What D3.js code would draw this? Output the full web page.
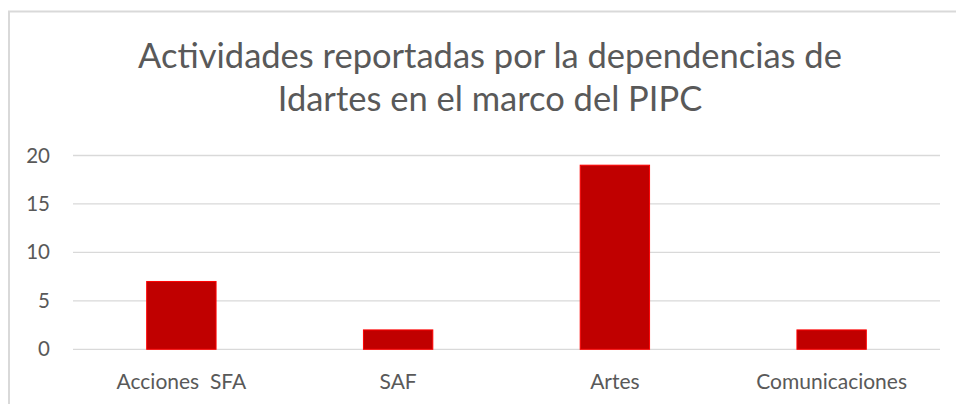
<!DOCTYPE html>
<html>
<head>
<meta charset="utf-8">
<script src="https://cdn.jsdelivr.net/npm/d3@7"></script>
<style>
  body { margin: 0; background: #fff; }
  text { font-family: Lato, "Open Sans", sans-serif; fill: #595959; }
</style>
</head>
<body>
<svg id="chart"></svg>
<script>
const categories = ["Acciones  SFA", "SAF", "Artes", "Comunicaciones"];
const values = [7, 2, 19, 2];
const yTicks = [0, 5, 10, 15, 20];
const titleLines = ["Actividades reportadas por la dependencias de", "Idartes en el marco del PIPC"];

const width = 956;
const height = 404;
const margin = {top: 156, right: 16, bottom: 55, left: 73};

const svg = d3.select("#chart")
    .attr("width", width)
    .attr("height", height);

// chart frame (only top and left edges are in view)
svg.append("path")
    .attr("d", `M9,${height} V11.5 H${width}`)
    .attr("fill", "none")
    .attr("stroke", "#d9d9d9")
    .attr("stroke-width", 2);

svg.append("g")
  .selectAll("text")
  .data(titleLines)
  .enter().append("text")
    .attr("x", 490)
    .attr("y", (d, i) => 68 + i * 43)
    .attr("text-anchor", "middle")
    .style("font-size", "34.5px")
    .text(d => d);

const x = d3.scaleBand()
    .domain(categories)
    .range([margin.left, width - margin.right])
    .paddingInner(0.68)
    .paddingOuter(0.34);

const y = d3.scaleLinear()
    .domain([0, 20])
    .range([349.3, 155.5]);

// gridlines
svg.append("g")
  .selectAll("line")
  .data(yTicks)
  .enter().append("line")
    .attr("x1", margin.left)
    .attr("x2", width - margin.right)
    .attr("y1", d => y(d))
    .attr("y2", d => y(d))
    .attr("stroke", "#d9d9d9")
    .attr("stroke-width", 1.3);

const yAxis = svg.append("g")
    .attr("transform", `translate(${margin.left},0)`)
    .call(d3.axisLeft(y).tickValues(yTicks).tickSize(0).tickPadding(23));
yAxis.select(".domain").remove();
yAxis.selectAll("text")
    .style("font-size", "20.5px")
    .attr("fill", "#595959");

svg.append("g")
  .selectAll("rect")
  .data(values)
  .enter().append("rect")
    .attr("x", (d, i) => x(categories[i]))
    .attr("y", d => y(d))
    .attr("width", x.bandwidth())
    .attr("height", d => y(0) - y(d))
    .attr("fill", "#c00000")
    .attr("stroke", "#ff0000")
    .attr("stroke-width", 1);

const xAxis = svg.append("g")
    .attr("transform", `translate(0,${y(0)})`)
    .call(d3.axisBottom(x).tickSize(0).tickPadding(25));
xAxis.select(".domain").remove();
xAxis.selectAll("text")
    .style("font-size", "21px")
    .style("white-space", "pre")
    .attr("fill", "#595959");
</script>
</body>
</html>
